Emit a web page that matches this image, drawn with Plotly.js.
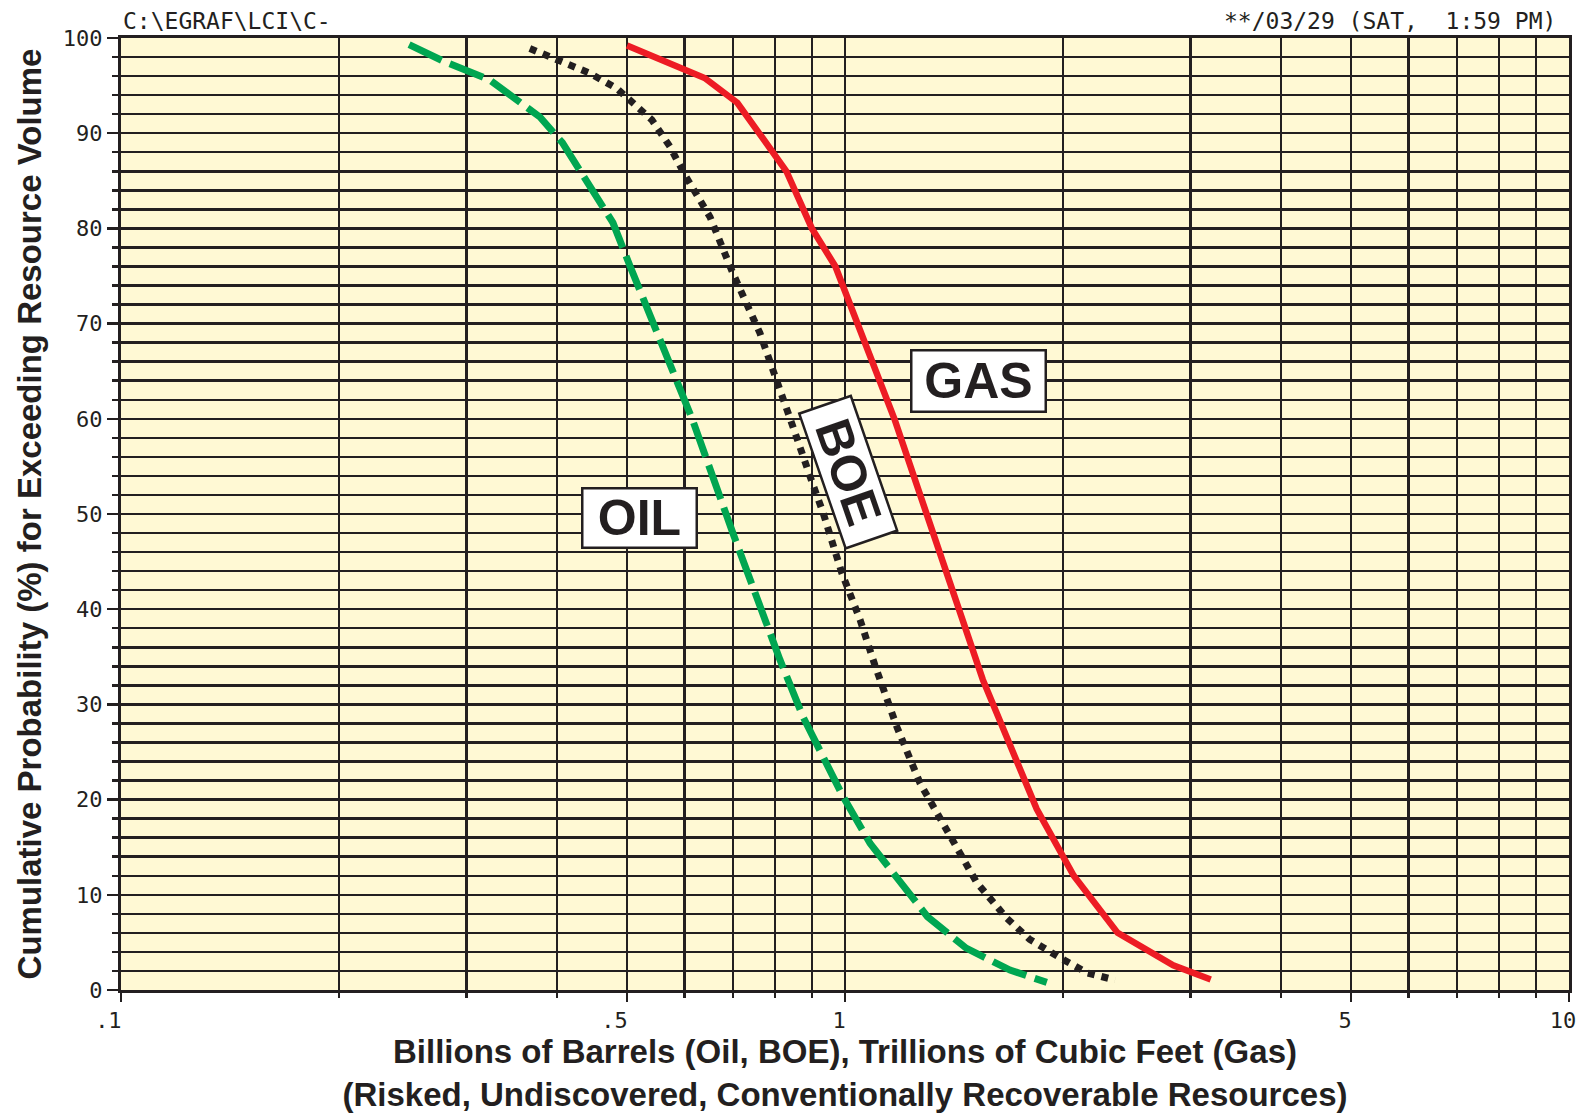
<!DOCTYPE html>
<html>
<head>
<meta charset="utf-8">
<script src="https://cdn.plot.ly/plotly-3.0.1.min.js"></script>
<style>html,body{margin:0;padding:0;background:#fff}#chart{width:1577px;height:1113px}</style>
</head>
<body>
<div id="chart"></div>
<script>
// ---- data ----
const gasX = [0.50, 0.64, 0.71, 0.83, 0.90, 0.97, 1.17, 1.38, 1.55, 1.84, 2.07, 2.38, 2.84, 3.20];
const gasY = [99.2, 95.8, 93.2, 86.0, 80.0, 76.0, 60.0, 44.0, 32.6, 19.0, 12.0, 6.0, 2.6, 1.1];

const oilX = [0.25, 0.28, 0.323, 0.364, 0.379, 0.407, 0.44, 0.478, 0.505, 0.541, 0.615, 0.70, 0.813, 0.875, 0.994, 1.083, 1.30, 1.47, 1.69, 1.90];
const oilY = [99.3, 97.5, 95.6, 92.6, 91.7, 89.0, 84.8, 80.6, 76.0, 70.4, 60.0, 48.0, 34.7, 28.7, 20.3, 15.4, 7.7, 4.4, 2.1, 0.8];

const boeX = [0.367, 0.404, 0.444, 0.484, 0.541, 0.573, 0.601, 0.651, 0.70, 0.763, 0.806, 0.848, 0.90, 0.933, 0.99, 1.049, 1.10, 1.18, 1.27, 1.40, 1.52, 1.67, 1.80, 1.98, 2.16, 2.36];
const boeY = [98.9, 97.6, 96.3, 94.7, 91.4, 88.6, 85.6, 81.2, 75.3, 69.0, 64.1, 59.1, 53.4, 50.1, 43.8, 38.9, 34.1, 27.6, 21.7, 16.1, 11.3, 7.6, 5.3, 3.4, 1.8, 1.05];

const xTickVals = [0.1, 0.5, 1, 5, 10];
const xTickText = ['.1', '.5', '1', '5', '10'];
const xMinorVals = [0.2, 0.3, 0.4, 0.6, 0.7, 0.8, 0.9, 2, 3, 4, 6, 7, 8, 9];
const yTickVals = [0, 10, 20, 30, 40, 50, 60, 70, 80, 90, 100];
const yTickText = ['0', '10', '20', '30', '40', '50', '60', '70', '80', '90', '100'];

const seriesLabels = ['GAS', 'OIL', 'BOE'];
const headerLeft = 'C:\\EGRAF\\LCI\\C-';
const headerRight = '**/03/29 (SAT,  1:59 PM)';
const xTitle = 'Billions of Barrels (Oil, BOE), Trillions of Cubic Feet (Gas)<br>(Risked, Undiscovered, Conventionally Recoverable Resources)';
const yTitle = 'Cumulative Probability (%) for Exceeding Resource Volume';

// ---- styles ----
const ink = '#231f20';
const plotBg = '#fff9d4';
const boldFont = '"Liberation Sans", Arial, Helvetica, sans-serif';
const monoFont = '"DejaVu Sans Mono", "Liberation Mono", monospace';

// plotter-style labels sit left of their tick: extra right padding (non-breaking spaces, mono font)
const xTickPad = [1, 1, 0, 0, 0];
const xTickTextShown = xTickText.map((t, i) => t + '\u00a0'.repeat(xTickPad[i]));

const traces = [
  {x: gasX, y: gasY, name: 'GAS', type: 'scatter', mode: 'lines',
   line: {color: '#ed1c24', width: 6.5}},
  {x: boeX, y: boeY, name: 'BOE', type: 'scatter', mode: 'lines',
   line: {color: ink, width: 7, dash: '7px,7px'}},
  {x: oilX, y: oilY, name: 'OIL', type: 'scatter', mode: 'lines',
   line: {color: '#00a651', width: 7, dash: '36px,9px'}}
];

const labelFont = {family: boldFont, size: 50, color: ink, weight: 'bold'};

const layout = {
  width: 1577, height: 1113,
  margin: {l: 121, r: 8, t: 38, b: 123, pad: 0},
  paper_bgcolor: '#ffffff',
  plot_bgcolor: plotBg,
  showlegend: false,
  xaxis: {
    type: 'log', range: [-1, 1],
    tickmode: 'array', tickvals: xTickVals, ticktext: xTickTextShown,
    ticks: 'outside', ticklen: 9, tickwidth: 2.5, tickcolor: ink,
    ticklabeloverflow: 'allow', ticklabelshift: -6,
    showgrid: true, gridcolor: ink, gridwidth: 2.5,
    minor: {tickmode: 'array', tickvals: xMinorVals, ticks: 'outside', ticklen: 5,
            tickwidth: 2.5, tickcolor: ink, showgrid: true, gridcolor: ink, gridwidth: 2.5},
    showline: true, linecolor: ink, linewidth: 3, mirror: true,
    zeroline: false,
    tickfont: {family: monoFont, size: 22, color: ink},
    title: {text: xTitle, font: {family: boldFont, size: 33, color: ink, weight: 'bold'}, standoff: 17},
    automargin: false
  },
  yaxis: {
    range: [0, 100],
    tickmode: 'array', tickvals: yTickVals, ticktext: yTickText,
    ticks: 'outside', ticklen: 11, tickwidth: 2.5, tickcolor: ink,
    showgrid: true, gridcolor: ink, gridwidth: 2.5,
    minor: {dtick: 2, ticks: 'outside', ticklen: 6, tickwidth: 2.5, tickcolor: ink,
            showgrid: true, gridcolor: ink, gridwidth: 2.5},
    showline: true, linecolor: ink, linewidth: 3, mirror: true,
    zeroline: false,
    tickfont: {family: monoFont, size: 22, color: ink},
    title: {text: yTitle, font: {family: boldFont, size: 33, color: ink, weight: 'bold'}, standoff: 12},
    automargin: false
  },
  annotations: [
    {text: seriesLabels[0], xref: 'paper', yref: 'paper', x: 0.592, y: 0.640,
     xanchor: 'center', yanchor: 'middle', showarrow: false, font: labelFont,
     bgcolor: '#ffffff', bordercolor: ink, borderwidth: 2.5, borderpad: 0, width: 132, height: 59},
    {text: seriesLabels[1], xref: 'paper', yref: 'paper', x: 0.358, y: 0.496,
     xanchor: 'center', yanchor: 'middle', showarrow: false, font: labelFont,
     bgcolor: '#ffffff', bordercolor: ink, borderwidth: 2.5, borderpad: 0, width: 112, height: 57},
    {text: seriesLabels[2], xref: 'paper', yref: 'paper', x: 0.5025, y: 0.544,
     xanchor: 'center', yanchor: 'middle', showarrow: false, font: labelFont, textangle: 71,
     bgcolor: '#ffffff', bordercolor: ink, borderwidth: 2.5, borderpad: 0, width: 140, height: 52},
    {text: headerLeft, xref: 'paper', yref: 'paper', x: 0.0, y: (990 - 21) / 952,
     xanchor: 'left', yanchor: 'middle', showarrow: false,
     font: {family: monoFont, size: 23, color: ink}},
    {text: headerRight, xref: 'paper', yref: 'paper', x: (1558 - 121) / 1448, y: (990 - 21) / 952,
     xanchor: 'right', yanchor: 'middle', showarrow: false,
     font: {family: monoFont, size: 23, color: ink}}
  ]
};

Plotly.newPlot('chart', traces, layout, {displayModeBar: false, staticPlot: true});
</script>
</body>
</html>
